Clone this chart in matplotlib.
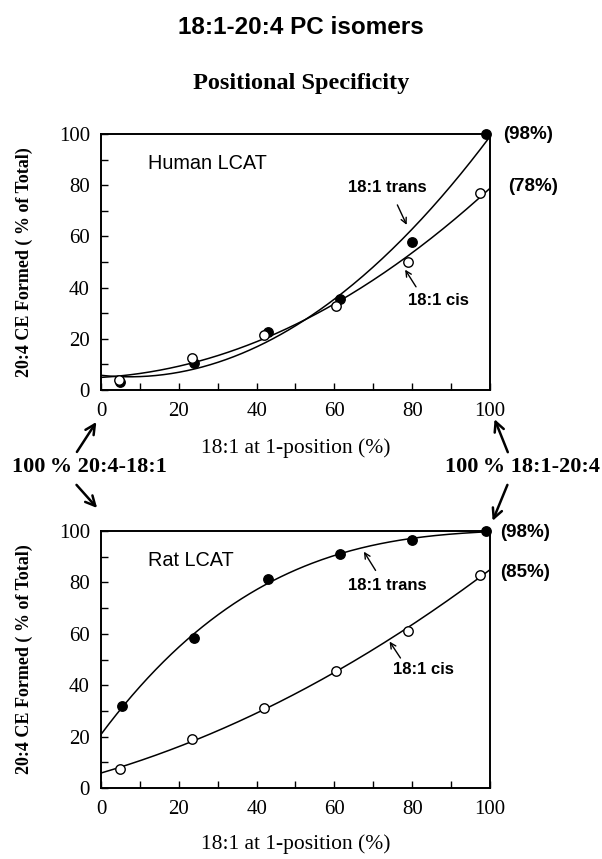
import numpy as np
import matplotlib
matplotlib.use('Agg')
import matplotlib.pyplot as plt

SERIF = ['Liberation Serif', 'DejaVu Serif']
SANS = ['Liberation Sans', 'DejaVu Sans']

# datos
human_x_trans = [5, 24, 43, 61.5, 80, 99]
human_y_trans = [3, 10.5, 22.5, 35.5, 58, 100]
human_x_cis = [4.5, 23.5, 42, 60.5, 79, 97.5]
human_y_cis = [4, 12.5, 21.5, 33, 50, 77]

rat_x_trans = [5.5, 24, 43, 61.5, 80, 99]
rat_y_trans = [32, 58.5, 81.5, 91, 96.5, 100]
rat_x_cis = [5, 23.5, 42, 60.5, 79, 97.5]
rat_y_cis = [7.5, 19, 31, 45.5, 61, 83]

human_pct = ['(98%)', '(78%)']
rat_pct = ['(98%)', '(85%)']

fig = plt.figure(figsize=(6.02, 8.59), dpi=100)
fig.patch.set_facecolor('white')

ax1 = fig.add_axes([0.1678, 0.546, 0.646, 0.298])
ax2 = fig.add_axes([0.1678, 0.0827, 0.646, 0.299])

xs = np.linspace(0, 100, 200)


def panel(ax, xt, yt, xc, yc, deg_t, deg_c, name):
    ct = np.polyfit(xt, yt, deg_t)
    cc = np.polyfit(xc, yc, deg_c)
    ax.plot(xs, np.polyval(ct, xs), color='black', lw=1.1, zorder=2)
    ax.plot(xs, np.polyval(cc, xs), color='black', lw=1.1, zorder=2)
    ax.plot(xt, yt, 'o', ms=6.8, mfc='black', mec='black', zorder=3, clip_on=False)
    ax.plot(xc, yc, 'o', ms=6.8, mfc='white', mec='black', mew=1.0, zorder=3, clip_on=False)
    ax.set_xlim(0, 100)
    ax.set_ylim(0, 100)
    ax.set_xticks(range(0, 101, 20))
    ax.set_xticks(range(0, 101, 10), minor=True)
    ax.set_yticks(range(0, 101, 20))
    ax.set_yticks(range(0, 101, 10), minor=True)
    ax.tick_params(which='both', direction='in', length=5, width=1,
                   top=False, right=False, labelsize=15)
    ax.tick_params(axis='x', pad=9)
    ax.tick_params(axis='y', pad=8)
    for lab in ax.get_xticklabels() + ax.get_yticklabels():
        lab.set_family(SERIF)
    for s in ax.spines.values():
        s.set_linewidth(1.4)
    ax.set_ylabel('20:4 CE Formed ( % of Total)', family=SERIF,
                  fontweight='bold', fontsize=13)
    ax.yaxis.set_label_coords(-0.175, 0.5)
    ax.text(12, 88.5, name, family=SANS, fontsize=14.3, va='center', ha='left')


panel(ax1, human_x_trans, human_y_trans, human_x_cis, human_y_cis, 2, 2, 'Human LCAT')
panel(ax2, rat_x_trans, rat_y_trans, rat_x_cis, rat_y_cis, 3, 2, 'Rat LCAT')

ax1.set_xlabel('18:1 at 1-position (%)', family=SERIF, fontsize=15.5, labelpad=12)
ax2.set_xlabel('18:1 at 1-position (%)', family=SERIF, fontsize=15.5, labelpad=11)

small = dict(arrowstyle='->', lw=1.0, color='black', shrinkA=0, shrinkB=0)
lab = dict(family=SANS, fontweight='bold', fontsize=12, va='center', ha='center')

# etiquetas de las curvas (panel humano)
ax1.annotate('', xy=(78.6, 64.5), xytext=(76.2, 72.3), arrowprops=small)
ax1.text(73.7, 79.2, '18:1 trans', **lab)
ax1.annotate('', xy=(78.2, 47), xytext=(81, 40.3), arrowprops=small)
ax1.text(86.8, 35, '18:1 cis', **lab)
ax1.text(103.5, 100, human_pct[0], family=SANS, fontweight='bold', fontsize=13.5,
         va='center', ha='left', clip_on=False)
ax1.text(104.6, 79.4, human_pct[1], family=SANS, fontweight='bold', fontsize=13.5,
         va='center', ha='left', clip_on=False)

# etiquetas de las curvas (panel rata)
ax2.annotate('', xy=(67.6, 92), xytext=(70.6, 84.7), arrowprops=small)
ax2.text(73.5, 78.7, '18:1 trans', **lab)
ax2.annotate('', xy=(74.2, 57), xytext=(77, 50.6), arrowprops=small)
ax2.text(83, 46, '18:1 cis', **lab)
ax2.text(102.5, 99.4, rat_pct[0], family=SANS, fontweight='bold', fontsize=13.5,
         va='center', ha='left', clip_on=False)
ax2.text(102.5, 83.8, rat_pct[1], family=SANS, fontweight='bold', fontsize=13.5,
         va='center', ha='left', clip_on=False)

# flechas grandes entre paneles
big = dict(arrowstyle='->,head_length=0.7,head_width=0.35', lw=1.8, color='black',
           shrinkA=0, shrinkB=0)
ax1.annotate('', xy=(-1.2, -12.5), xytext=(-6.2, -24.2), arrowprops=big, annotation_clip=False)
ax1.annotate('', xy=(101.2, -11.4), xytext=(104.6, -24.3), arrowprops=big, annotation_clip=False)
ax2.annotate('', xy=(-1, 109), xytext=(-6.3, 118), arrowprops=big, annotation_clip=False)
ax2.annotate('', xy=(100.7, 104), xytext=(104.5, 118), arrowprops=big, annotation_clip=False)

fig.text(0.02, 1 - 467 / 859, '100\u2009% 20:4-18:1', family=SERIF, fontweight='bold',
         fontsize=16, va='center', ha='left')
fig.text(0.997, 1 - 467 / 859, '100\u2009% 18:1-20:4', family=SERIF, fontweight='bold',
         fontsize=16, va='center', ha='right')

fig.text(0.5, 1 - 27 / 859, '18:1-20:4 PC isomers', family=SANS, fontweight='bold',
         fontsize=17.5, va='center', ha='center')
fig.text(0.5, 1 - 83 / 859, 'Positional Specificity', family=SERIF, fontweight='bold',
         fontsize=17.5, va='center', ha='center')

fig.savefig('out.png', dpi=100, facecolor='white')
